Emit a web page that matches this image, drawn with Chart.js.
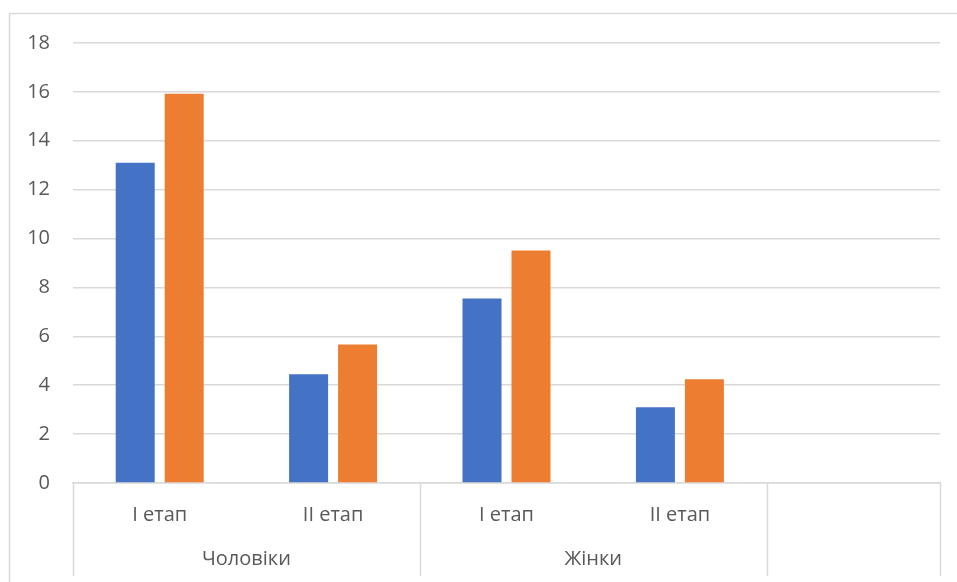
<!DOCTYPE html>
<html>
<head>
<meta charset="utf-8">
<script src="https://cdn.jsdelivr.net/npm/chart.js@4.4.0/dist/chart.umd.min.js"></script>
<style>
  html, body { margin: 0; padding: 0; background: #ffffff; }
  canvas { display: block; }
</style>
</head>
<body>
<canvas id="chart" width="957" height="582"></canvas>
<script>
// Stage labels (first row of the category axis); the last slot is an empty category
const stages = ['I етап', 'II етап', 'I етап', 'II етап', ''];
// Group labels (second row) and how many stages each one spans
const groups = ['Чоловіки', 'Жінки', ''];
const groupSpans = [2, 2, 1];
// Two series per stage
const seriesBlue = [13.1, 4.45, 7.55, 3.1, null];
const seriesOrange = [15.92, 5.67, 9.51, 4.24, null];
// Value axis ticks
const yTicks = [0, 2, 4, 6, 8, 10, 12, 14, 16, 18];

const FONT = '"Open Sans", "Noto Sans", sans-serif';
const TEXT = '#595959';
const LINE = '#d9d9d9';

// Frame around the chart, group row labels and dividers under the category axis
const groupAxisPlugin = {
  id: 'groupAxis',
  beforeDraw(chart) {
    const ctx = chart.ctx;
    ctx.save();
    ctx.strokeStyle = LINE;
    ctx.lineWidth = 1.5;
    ctx.beginPath();
    ctx.moveTo(9.5, chart.height);
    ctx.lineTo(9.5, 13.5);
    ctx.lineTo(chart.width, 13.5);
    ctx.stroke();
    ctx.restore();
  },
  afterDraw(chart) {
    const ctx = chart.ctx;
    const x = chart.scales.x;
    const area = chart.chartArea;
    const step = (x.getPixelForValue(1) - x.getPixelForValue(0));
    const edge = i => x.getPixelForValue(i) - step / 2;
    ctx.save();
    ctx.strokeStyle = LINE;
    ctx.lineWidth = 1.5;
    let start = 0;
    const bounds = [0];
    groupSpans.forEach(n => { start += n; bounds.push(start); });
    ctx.beginPath();
    bounds.forEach(b => {
      const px = Math.round(edge(b)) + 0.5;
      ctx.moveTo(px, area.bottom);
      ctx.lineTo(px, 576);
    });
    ctx.stroke();
    ctx.fillStyle = TEXT;
    ctx.font = '20px ' + FONT;
    ctx.textAlign = 'center';
    ctx.textBaseline = 'middle';
    groups.forEach((g, i) => {
      const cx = (edge(bounds[i]) + edge(bounds[i + 1])) / 2;
      ctx.fillText(g, cx, 559);
    });
    ctx.restore();
  }
};

new Chart(document.getElementById('chart'), {
  type: 'bar',
  data: {
    labels: stages,
    datasets: [
      { label: 'Ряд 1', data: seriesBlue, backgroundColor: '#4472C4',
        categoryPercentage: 0.565, barPercentage: 0.796 },
      { label: 'Ряд 2', data: seriesOrange, backgroundColor: '#ED7D31',
        categoryPercentage: 0.565, barPercentage: 0.796 }
    ]
  },
  options: {
    responsive: false,
    animation: false,
    layout: { padding: { top: 43, right: 17, left: 0, bottom: 0 } },
    plugins: { legend: { display: false }, tooltip: { enabled: false } },
    scales: {
      x: {
        grid: { display: false },
        border: { color: LINE, width: 1.5 },
        ticks: { color: TEXT, font: { size: 20, family: FONT }, padding: 12, maxRotation: 0 },
        afterFit(s) { s.height = 99; }
      },
      y: {
        min: 0, max: 18,
        afterBuildTicks(s) { s.ticks = yTicks.map(v => ({ value: v })); },
        grid: { color: LINE, lineWidth: 1.5, drawTicks: false },
        border: { display: false },
        ticks: { color: TEXT, font: { size: 20, family: FONT }, padding: 23 },
        afterFit(s) { s.width = 73; }
      }
    }
  },
  plugins: [groupAxisPlugin]
});
</script>
</body>
</html>
